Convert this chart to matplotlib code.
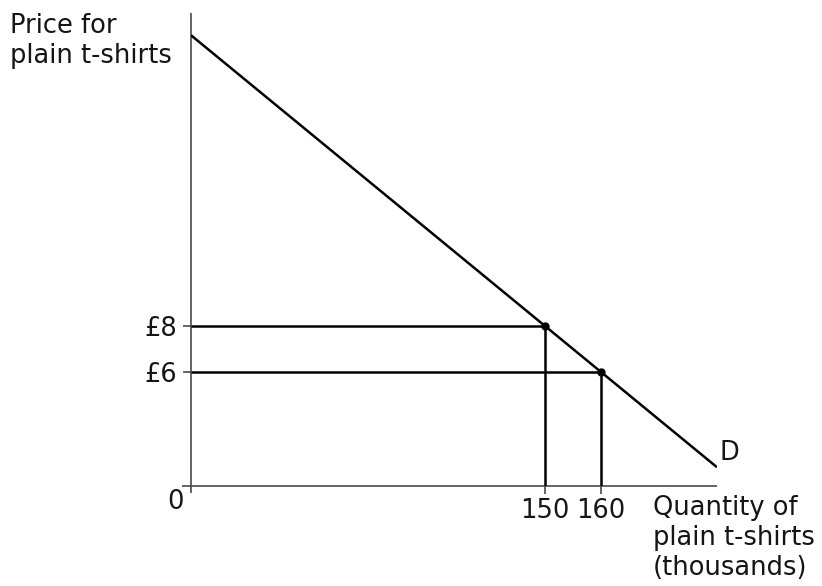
import matplotlib
matplotlib.use('Agg')
import matplotlib.pyplot as plt

# Demand for plain t-shirts (schematic: P = 8 - 0.2 * (Q - 150))
demand_q = [86.8, 180.7]
demand_p = [20.64, 1.86]

# Marked price/quantity combinations on the demand curve
point_q = [150, 160]
point_p = [8, 6]
price_labels = ['£8', '£6']
qty_labels = ['150', '160']

FONT = 18.5
INK = 'black'
TEXT = '#151515'
AXIS_GREY = '#4a4a4a'

fig = plt.figure(figsize=(8.22, 5.86), dpi=100)
ax = fig.add_axes([191 / 822, 100 / 586, 526 / 822, 473 / 586])
ax.set_xlim(86.79, 180.71)
ax.set_ylim(1.0435, 21.609)

for side in ax.spines.values():
    side.set_visible(False)

# axis lines, each poking slightly past the origin
ax.plot([0, 0], [-7 / 473, 1], transform=ax.transAxes, color=AXIS_GREY,
        lw=1.2, clip_on=False, solid_capstyle='butt')
ax.plot([-9 / 526, 1], [0, 0], transform=ax.transAxes, color=AXIS_GREY,
        lw=1.2, clip_on=False, solid_capstyle='butt')

# demand curve
ax.plot(demand_q, demand_p, color=INK, lw=1.8, solid_capstyle='butt')

# guide lines from each point back to the axes
x0, x1 = ax.get_xlim()
y0, y1 = ax.get_ylim()
for q, p in zip(point_q, point_p):
    ax.plot([x0, q], [p, p], color=INK, lw=1.8, solid_capstyle='butt')
    ax.plot([q, q], [y0, p], color=INK, lw=1.8, solid_capstyle='butt')
ax.plot(point_q, point_p, 'o', color=INK, ms=5, zorder=5)

ax.set_xticks(point_q)
ax.set_xticklabels(qty_labels)
ax.set_yticks(point_p)
ax.set_yticklabels(price_labels)
ax.tick_params(axis='both', direction='out', length=6, width=1.2,
               color=AXIS_GREY, labelsize=FONT, labelcolor=TEXT)
ax.tick_params(axis='x', pad=3)
ax.tick_params(axis='y', pad=4)

ax.annotate('0', xy=(0, 0), xycoords='axes fraction', xytext=(-11.2, -2.5),
            textcoords='offset points', ha='center', va='top',
            fontsize=FONT, color=TEXT)

ax.annotate('D', xy=(demand_q[-1], demand_p[-1]), xytext=(2, 10),
            textcoords='offset points', ha='left', va='center',
            fontsize=FONT, color=TEXT, annotation_clip=False)

fig.text(10 / 822, 1 - 13 / 586, 'Price for\nplain t-shirts', ha='left',
         va='top', fontsize=FONT, color=TEXT, linespacing=1.2)
fig.text(653 / 822, 1 - 495 / 586, 'Quantity of\nplain t-shirts\n(thousands)',
         ha='left', va='top', fontsize=FONT, color=TEXT, linespacing=1.2)

fig.savefig('out.png', dpi=100)
